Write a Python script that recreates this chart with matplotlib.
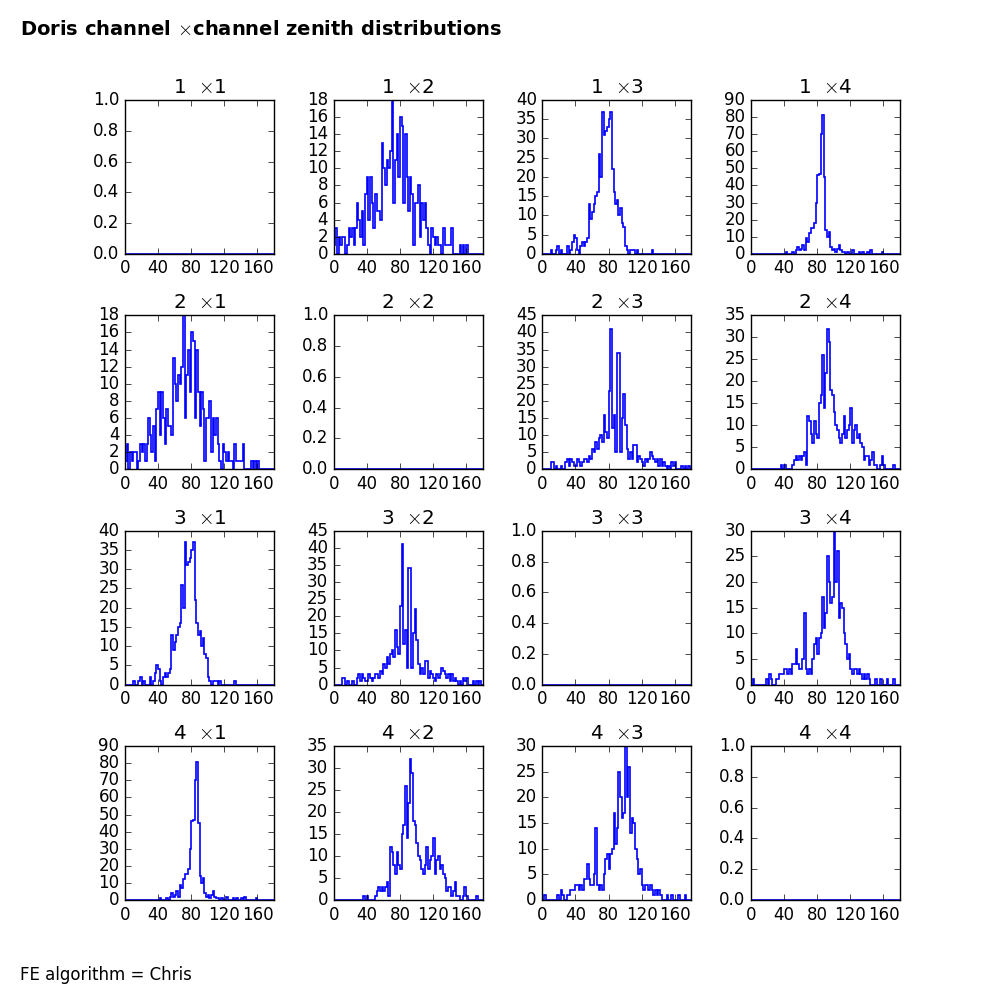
import matplotlib
matplotlib.use("Agg")
import matplotlib.pyplot as plt
import numpy as np

# zenith histograms, 2 degree bins from 0 to 180
edges = np.arange(0, 182, 2)
channels = [1, 2, 3, 4]

c12 = [1, 3, 0, 2, 1, 2, 2, 0, 1, 3,
       2, 3, 1, 3, 6, 4, 2, 5, 1, 7,
       9, 4, 9, 6, 3, 7, 5, 5, 4, 13,
       10, 8, 11, 10, 12, 18, 6, 11, 14, 9,
       16, 15, 6, 14, 9, 5, 9, 7, 1, 6,
       6, 8, 2, 6, 4, 6, 3, 1, 0, 3,
       2, 1, 2, 1, 1, 0, 3, 1, 1, 1,
       1, 3, 0, 0, 0, 0, 1, 0, 1, 0,
       1, 0, 0, 0, 0, 0, 0, 0, 0, 0]
c13 = [0, 0, 0, 0, 0, 1, 0, 0, 1, 2,
       0, 1, 0, 0, 0, 2, 0, 1, 3, 5,
       4, 1, 0, 2, 3, 2, 3, 4, 13, 9,
       11, 13, 15, 16, 26, 20, 37, 31, 32, 33,
       35, 37, 22, 16, 13, 14, 10, 12, 8, 7,
       2, 1, 0, 1, 1, 1, 0, 1, 0, 0,
       0, 0, 0, 0, 0, 0, 1, 0, 0, 0,
       0, 0, 0, 0, 0, 0, 0, 0, 0, 0,
       0, 0, 0, 0, 0, 0, 0, 0, 0, 0]
c14 = [0, 0, 0, 0, 0, 0, 0, 0, 0, 0,
       0, 0, 0, 0, 0, 0, 0, 0, 0, 0,
       0, 1, 0, 0, 0, 1, 0, 2, 4, 2,
       3, 5, 2, 9, 7, 12, 15, 15, 18, 30,
       46, 47, 70, 81, 45, 14, 10, 13, 4, 2,
       3, 1, 3, 5, 2, 1, 1, 0, 1, 0,
       0, 2, 0, 0, 0, 1, 0, 1, 0, 0,
       1, 0, 2, 0, 0, 0, 0, 0, 0, 1,
       0, 0, 0, 0, 0, 0, 0, 0, 0, 0]
c23 = [0, 0, 0, 0, 0, 2, 2, 0, 1, 0,
       0, 1, 0, 0, 2, 3, 1, 3, 2, 1,
       1, 3, 2, 1, 2, 3, 3, 2, 4, 3,
       6, 5, 8, 6, 9, 10, 8, 16, 11, 9,
       23, 41, 12, 16, 5, 34, 34, 5, 15, 22,
       13, 6, 3, 5, 3, 7, 7, 2, 4, 3,
       2, 1, 3, 2, 3, 5, 4, 3, 2, 3,
       1, 3, 1, 2, 1, 0, 1, 0, 2, 1,
       2, 0, 0, 0, 1, 0, 1, 0, 1, 0]
c24 = [0, 0, 0, 0, 0, 0, 0, 0, 0, 0,
       0, 0, 0, 0, 0, 0, 0, 0, 1, 0,
       1, 0, 0, 0, 0, 1, 2, 3, 2, 3,
       2, 3, 4, 1, 12, 11, 8, 6, 11, 8,
       7, 15, 17, 26, 14, 22, 32, 29, 18, 17,
       13, 10, 9, 7, 6, 8, 12, 7, 9, 10,
       14, 6, 9, 10, 7, 8, 6, 5, 2, 3,
       3, 1, 2, 4, 1, 1, 0, 0, 1, 3,
       1, 0, 0, 0, 0, 0, 1, 0, 0, 0]
c34 = [0, 1, 0, 0, 0, 0, 0, 0, 0, 1,
       0, 2, 1, 0, 0, 1, 1, 2, 2, 2,
       3, 3, 2, 3, 2, 4, 4, 7, 4, 3,
       3, 5, 14, 3, 2, 3, 2, 5, 8, 9,
       6, 9, 10, 17, 11, 14, 25, 20, 16, 17,
       30, 20, 26, 13, 16, 15, 10, 8, 5, 6,
       3, 2, 3, 3, 2, 3, 2, 1, 2, 1,
       2, 1, 0, 0, 0, 1, 0, 0, 1, 0,
       0, 0, 1, 0, 0, 0, 1, 0, 0, 0]

pairs = {(1, 2): c12, (1, 3): c13, (1, 4): c14,
         (2, 3): c23, (2, 4): c24, (3, 4): c34}

plt.style.use('classic')
fig, axes = plt.subplots(4, 4, figsize=(10, 10), dpi=100)
fig.patch.set_facecolor('white')
plt.subplots_adjust(left=0.125, right=0.9, top=0.9, bottom=0.1, wspace=0.4, hspace=0.4)

for i, a in enumerate(channels):
    for j, b in enumerate(channels):
        ax = axes[i, j]
        key = (min(a, b), max(a, b))
        counts = pairs.get(key, [0] * (len(edges) - 1))
        ax.hist(edges[:-1], bins=edges, weights=counts, histtype='step', color='b', lw=1.2)
        ax.set_xlim(0, 180)
        ax.set_xticks([0, 40, 80, 120, 160])
        if max(counts) == 0:
            ax.set_ylim(0, 1)
        else:
            ax.set_ylim(bottom=0)
        ax.set_title(r'%d  $\times$%d' % (a, b), fontsize=14.4)
        ax.tick_params(labelsize=12)

fig.text(0.02, 0.965, r'Doris channel $\times$channel zenith distributions', fontsize=14, fontweight='bold', ha='left')
fig.text(0.02, 0.02, 'FE algorithm = Chris', fontsize=12, ha='left')
fig.savefig('out.png', dpi=100, facecolor='white')
